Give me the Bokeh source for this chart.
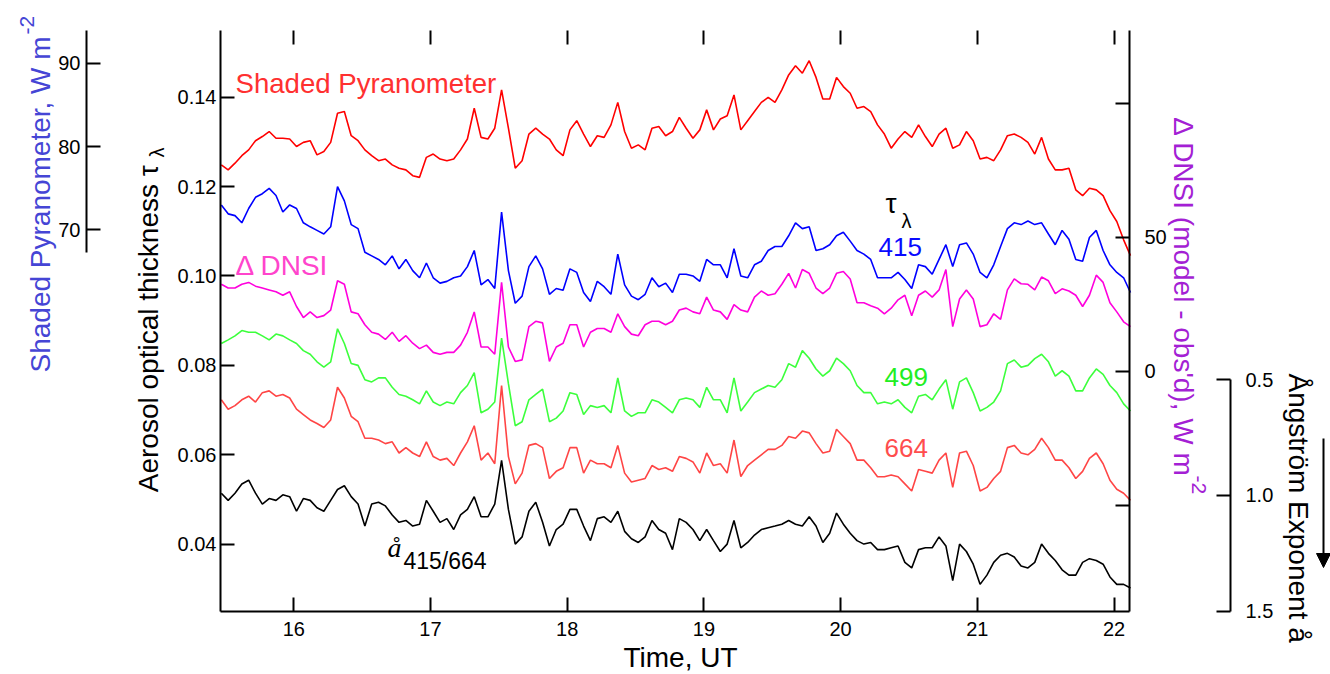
import math
from bokeh.plotting import figure
from bokeh.models import (Range1d, LinearAxis, FixedTicker, PrintfTickFormatter,
                          Label, Arrow, NormalHead)
from bokeh.embed import file_html
from bokeh.resources import INLINE

# ---------------- data ----------------
TIME = [round(15.47 + 0.05 * i, 2) for i in range(134)]

# Shaded pyranometer, W m-2
PYR = [77.8, 77.2, 78.0, 78.9, 79.6, 80.7, 81.2, 81.8, 81.0, 81.0, 80.9, 80.0, 80.5, 80.7, 79.0, 79.4, 80.5,
       84.0, 84.2, 81.3, 80.7, 79.6, 78.9, 78.3, 78.5, 77.8, 77.4, 77.2, 76.5, 76.3, 78.7, 79.1, 78.5, 78.3,
       78.5, 79.6, 80.9, 84.6, 81.1, 80.9, 82.2, 86.8, 82.2, 77.4, 78.3, 81.5, 82.2, 81.5, 80.9, 79.6, 78.9,
       82.0, 83.1, 81.5, 80.0, 81.3, 81.1, 82.6, 85.3, 81.8, 79.8, 80.2, 79.6, 82.2, 82.4, 81.3, 81.8,
       83.5, 82.2, 81.0, 82.0, 84.4, 82.0, 83.3, 83.7, 86.2, 82.0, 83.1, 84.2, 85.3, 85.9, 85.3, 86.8, 88.6,
       89.7, 88.8, 90.3, 88.3, 85.7, 85.7, 88.3, 87.2, 86.4, 84.6, 84.8, 84.2, 82.6, 81.5, 79.8, 80.9, 81.8,
       81.1, 82.6, 81.2, 80.0, 81.5, 82.2, 79.8, 80.2, 81.8, 80.7, 78.5, 78.7, 78.3, 79.6, 81.3, 81.5, 81.1,
       80.5, 79.1, 81.1, 78.5, 77.2, 77.2, 77.4, 74.8, 74.1, 75.0, 74.8, 74.1, 72.3, 71.0, 68.8, 66.9]

# Aerosol optical thickness at 415 nm
T415 = [0.1159, 0.1139, 0.1135, 0.1119, 0.1151, 0.1176, 0.1184, 0.1196, 0.1180, 0.1143, 0.1159, 0.1151,
        0.1119, 0.1110, 0.1102, 0.1094, 0.1110, 0.1200, 0.1168, 0.1115, 0.1106, 0.1053, 0.1045, 0.1037,
        0.1025, 0.1045, 0.1016, 0.1037, 0.1012, 0.0996, 0.1029, 0.0996, 0.0984, 0.0988,
        0.0996, 0.1000, 0.1021, 0.1057, 0.0980, 0.0992, 0.0972, 0.1143, 0.1012, 0.0939, 0.0955, 0.1021,
        0.1045, 0.1016, 0.0959, 0.0972, 0.0968, 0.1016, 0.1008, 0.0963, 0.0943, 0.0988, 0.0976, 0.0959,
        0.1049, 0.0980, 0.0955, 0.0947, 0.0959, 0.0996, 0.0976, 0.0984, 0.0963,
        0.1004, 0.1004, 0.1000, 0.0988, 0.1037, 0.1025, 0.1025, 0.0996, 0.1061, 0.1000, 0.0996, 0.1025,
        0.1033, 0.1057, 0.1066, 0.1066, 0.1090, 0.1119, 0.1106, 0.1110, 0.1057, 0.1061, 0.1070, 0.1090,
        0.1098, 0.1078, 0.1057, 0.1049, 0.1037, 0.0996, 0.0996, 0.0996, 0.1008, 0.0992,
        0.0972, 0.1025, 0.1021, 0.1004, 0.1037, 0.1070, 0.1021, 0.1070, 0.1074, 0.1049, 0.1008, 0.0996,
        0.1025, 0.1066, 0.1106, 0.1119, 0.1115, 0.1123, 0.1115, 0.1119, 0.1094, 0.1070, 0.1102, 0.1082,
        0.1037, 0.1033, 0.1086, 0.1102, 0.1057, 0.1025, 0.1008, 0.0996, 0.0963]

# Delta DNSI (model - obs'd), W m-2
DNSI = [32.4, 31.0, 31.0, 32.4, 33.1, 31.7, 31.0, 30.3, 29.6, 28.3, 29.6, 24.1, 20.0, 22.1, 20.0, 20.7, 22.8,
        33.7, 32.4, 22.1, 21.4, 17.3, 14.5, 13.8, 11.8, 14.5, 11.1, 13.2, 10.4, 8.4, 9.7, 7.0, 6.3, 7.0,
        7.0, 9.7, 14.5, 22.1, 9.0, 9.0, 6.3, 33.1, 9.0, 3.6, 4.2, 16.6, 18.6, 18.0, 3.6, 9.0, 10.4,
        17.3, 17.3, 9.0, 14.5, 15.9, 15.9, 14.5, 21.4, 16.6, 13.8, 13.2, 17.3, 18.6, 18.6, 17.3, 18.6,
        22.8, 23.5, 22.1, 21.4, 27.6, 22.8, 22.1, 19.3, 24.8, 22.8, 22.1, 27.6, 29.9, 28.3, 28.9, 32.4, 36.5,
        31.0, 37.9, 36.5, 31.0, 28.9, 31.0, 36.5, 37.2, 34.4, 25.5, 25.5, 24.4, 23.5, 21.4, 23.5, 26.6, 28.3,
        20.7, 28.3, 29.9, 27.6, 30.3, 37.9, 16.6, 26.9, 30.3, 26.9, 16.6, 17.3, 21.4, 19.3, 30.3, 34.4, 32.6,
        32.4, 30.3, 35.1, 33.7, 28.9, 30.7, 29.9, 28.3, 24.1, 28.3, 35.8, 33.1, 25.5, 22.1, 18.4, 16.6]

# Aerosol optical thickness at 499 nm
T499 = [0.0849, 0.0857, 0.0866, 0.0878, 0.0874, 0.0874, 0.0866, 0.0857, 0.0870, 0.0866, 0.0857, 0.0849,
        0.0833, 0.0825, 0.0808, 0.0796, 0.0808, 0.0882, 0.0849, 0.0804, 0.0800, 0.0768, 0.0763, 0.0772,
        0.0772, 0.0751, 0.0735, 0.0731, 0.0723, 0.0714, 0.0743, 0.0718, 0.0710, 0.0718,
        0.0714, 0.0739, 0.0755, 0.0784, 0.0694, 0.0702, 0.0718, 0.0861, 0.0759, 0.0665, 0.0674, 0.0723,
        0.0735, 0.0747, 0.0674, 0.0682, 0.0698, 0.0739, 0.0735, 0.0690, 0.0710, 0.0706, 0.0710, 0.0694,
        0.0772, 0.0698, 0.0686, 0.0694, 0.0694, 0.0723, 0.0718, 0.0706, 0.0694,
        0.0723, 0.0727, 0.0723, 0.0706, 0.0751, 0.0723, 0.0723, 0.0694, 0.0772, 0.0698, 0.0718, 0.0739,
        0.0747, 0.0755, 0.0751, 0.0768, 0.0804, 0.0796, 0.0833, 0.0816, 0.0792, 0.0776, 0.0788, 0.0816,
        0.0804, 0.0788, 0.0755, 0.0739, 0.0739, 0.0714, 0.0718, 0.0714, 0.0723, 0.0706,
        0.0694, 0.0731, 0.0735, 0.0723, 0.0747, 0.0768, 0.0702, 0.0763, 0.0772, 0.0739, 0.0698, 0.0706,
        0.0718, 0.0743, 0.0804, 0.0812, 0.0796, 0.0800, 0.0815, 0.0825, 0.0808, 0.0776, 0.0788, 0.0776,
        0.0743, 0.0743, 0.0772, 0.0792, 0.0780, 0.0755, 0.0739, 0.0714, 0.0698]

# Aerosol optical thickness at 664 nm
T664 = [0.0723, 0.0702, 0.0710, 0.0723, 0.0731, 0.0718, 0.0739, 0.0743, 0.0731, 0.0735, 0.0727, 0.0702,
        0.0690, 0.0678, 0.0670, 0.0661, 0.0678, 0.0751, 0.0727, 0.0686, 0.0674, 0.0637, 0.0637, 0.0633,
        0.0625, 0.0629, 0.0604, 0.0616, 0.0604, 0.0596, 0.0629, 0.0596, 0.0588, 0.0592,
        0.0576, 0.0604, 0.0629, 0.0665, 0.0588, 0.0604, 0.0580, 0.0755, 0.0596, 0.0535, 0.0559, 0.0621,
        0.0625, 0.0616, 0.0547, 0.0563, 0.0571, 0.0616, 0.0616, 0.0559, 0.0588, 0.0580, 0.0580, 0.0571,
        0.0621, 0.0559, 0.0539, 0.0543, 0.0547, 0.0576, 0.0567, 0.0571, 0.0563,
        0.0596, 0.0592, 0.0584, 0.0559, 0.0604, 0.0576, 0.0580, 0.0559, 0.0633, 0.0551, 0.0576, 0.0588,
        0.0600, 0.0612, 0.0612, 0.0621, 0.0641, 0.0637, 0.0653, 0.0649, 0.0625, 0.0604, 0.0608, 0.0657,
        0.0641, 0.0625, 0.0588, 0.0588, 0.0571, 0.0551, 0.0551, 0.0555, 0.0551, 0.0535,
        0.0519, 0.0567, 0.0563, 0.0559, 0.0588, 0.0604, 0.0527, 0.0604, 0.0608, 0.0576, 0.0519, 0.0527,
        0.0547, 0.0563, 0.0616, 0.0621, 0.0604, 0.0600, 0.0612, 0.0637, 0.0616, 0.0588, 0.0588, 0.0571,
        0.0547, 0.0563, 0.0592, 0.0604, 0.0580, 0.0543, 0.0523, 0.0514, 0.0498]

# Angstrom exponent a(415/664)
ANG = [0.990, 1.021, 0.990, 0.950, 0.934, 0.990, 1.037, 1.013, 1.021, 0.997, 1.005, 1.068, 1.013, 1.021,
       1.053, 1.068, 1.021, 0.974, 0.958, 1.005, 1.037, 1.132, 1.037, 1.029, 1.045, 1.084, 1.116, 1.108,
       1.132, 1.124, 1.021, 1.068, 1.116, 1.100,
       1.147, 1.084, 1.060, 1.005, 1.092, 1.092, 1.037, 0.848, 1.060, 1.210, 1.179, 1.068, 1.029, 1.116,
       1.218, 1.147, 1.124, 1.060, 1.060, 1.132, 1.195, 1.100, 1.092, 1.116, 1.068, 1.155, 1.187, 1.203,
       1.179, 1.108, 1.147, 1.163, 1.234,
       1.100, 1.116, 1.147, 1.195, 1.147, 1.195, 1.242, 1.210, 1.108, 1.226, 1.203, 1.171, 1.147, 1.139,
       1.132, 1.124, 1.108, 1.124, 1.132, 1.092, 1.132, 1.203, 1.163, 1.076, 1.124, 1.163, 1.195, 1.210,
       1.203, 1.234, 1.234, 1.226, 1.218, 1.289,
       1.313, 1.234, 1.226, 1.226, 1.179, 1.218, 1.368, 1.210, 1.242, 1.297, 1.384, 1.344, 1.289, 1.258,
       1.250, 1.266, 1.305, 1.313, 1.289, 1.210, 1.250, 1.281, 1.321, 1.344, 1.344, 1.289, 1.273, 1.281,
       1.297, 1.352, 1.384, 1.384, 1.400]

X_TICKS = [16, 17, 18, 19, 20, 21, 22]
TAU_TICKS = [0.04, 0.06, 0.08, 0.10, 0.12, 0.14]
PYR_TICKS = [70, 80, 90]
DNSI_TICKS = [-50, 0, 50, 100]
ANG_TICKS = [0.5, 1.0, 1.5]

# ---------------- layout ----------------
W, H = 1330, 674
# main data frame (pixels from top-left of the canvas) and its data limits
FL, FR, FT, FB = 220, 1129, 30, 611
X0, X1 = 15.464, 22.113
Y0, Y1 = 0.02494, 0.15492
PYR_LIM = (24.18, 93.93)      # values at frame bottom / top
DNSI_LIM = (-89.7, 127.1)
ANG_LIM = (1.5013, -1.0095)


def dx(px):
    return X0 + (px - FL) * (X1 - X0) / (FR - FL)


def lin(lim, py):
    vb, vt = lim
    return vb + (FB - py) * (vt - vb) / (FB - FT)


def dy(py):
    return lin((Y0, Y1), py)


def full(lim):
    return Range1d(lin(lim, H), lin(lim, 0))


FONT = "Liberation Sans"

p = figure(width=W, height=H, x_range=Range1d(dx(0), dx(W)), y_range=full((Y0, Y1)),
           output_backend="svg", toolbar_location=None,
           x_axis_location=None, y_axis_location=None, min_border=0)
p.extra_y_ranges = {"pyr": full(PYR_LIM), "dnsi": full(DNSI_LIM), "ang": full(ANG_LIM)}
p.grid.visible = False
p.outline_line_color = None
p.background_fill_color = "white"
p.border_fill_color = "white"


def axis(side, ticks, fmt, standoff, loc, bounds, rng=None, labels=True, line=True):
    kw = {"y_range_name": rng} if rng else {}
    ax = LinearAxis(ticker=FixedTicker(ticks=ticks), fixed_location=loc, bounds=bounds, **kw)
    ax.formatter = PrintfTickFormatter(format=fmt)
    ax.major_tick_in = 14
    ax.major_tick_out = 0
    ax.minor_tick_line_color = None
    ax.major_tick_line_width = 2
    ax.major_tick_line_color = "black"
    ax.axis_line_width = 2
    ax.axis_line_color = "black" if line else None
    ax.major_label_text_font = FONT
    ax.major_label_text_font_size = "20px"
    ax.major_label_text_color = "black" if labels else None
    ax.major_label_standoff = standoff
    p.add_layout(ax, side)
    return ax


axis("left", TAU_TICKS, "%.2f", 4, X0, (Y0, Y1))
axis("below", X_TICKS, "%d", 10, Y0, (X0, X1))
axis("above", X_TICKS, "%d", 0, Y1, (X0, X1), labels=False, line=False)
ra = axis("right", DNSI_TICKS, "%d", 15, X1, DNSI_LIM, rng="dnsi")
ra.major_label_overrides = {-50: "", 100: ""}
axis("left", PYR_TICKS, "%d", 6, dx(86), (67.24, PYR_LIM[1]), rng="pyr")
axis("right", ANG_TICKS, "%.1f", 15, dx(1230), (0.5, 1.5), rng="ang")

# ---------------- series ----------------
LW = 1.6
p.line(TIME, PYR, y_range_name="pyr", line_color="#ff0000", line_width=LW)
p.line(TIME, T415, line_color="#0000ff", line_width=LW)
p.line(TIME, DNSI, y_range_name="dnsi", line_color="#ff00dd", line_width=LW)
p.line(TIME, T499, line_color="#3cff3c", line_width=LW)
p.line(TIME, T664, line_color="#ff4545", line_width=LW)
p.line(TIME, ANG, y_range_name="ang", line_color="black", line_width=LW)


# ---------------- texts (x, y = start of text, centre of its capital height) ----------------
def lab(text, px, py, size, color="black", angle=0.0, align="left",
        font=FONT, style="normal"):
    p.add_layout(Label(x=dx(px), y=dy(py), text=text, text_font=font,
                       text_font_size=f"{size}px", text_color=color, angle=angle,
                       text_align=align, text_baseline="alphabetic",
                       text_font_style=style))


lab("Shaded Pyranometer", 235, 83, 27.6, "#ff3030")
lab("\u0394 DNSI", 235, 264.5, 28, "#ff44cc")
lab("\u03c4", 885, 203, 28)
lab("\u03bb", 901, 220, 20)
lab("415", 878, 246, 26, "#0a0aff")
lab("499", 884, 376, 26, "#22ee22")
lab("664", 884, 447.5, 26, "#ff4d4d")
lab("\u00e5", 387, 547, 28, font="Liberation Serif", style="italic")
lab("415/664", 403, 560, 23)

# axis titles
lab("Aerosol optical thickness \u03c4", 148, 491.7, 28, angle=math.pi / 2)
lab("\u03bb", 156, 157, 20, angle=math.pi / 2)
lab("Shaded Pyranometer, W m", 40, 372, 28, "#4545d5", angle=math.pi / 2)
lab("-2", 26, 34, 21, "#4545d5", angle=math.pi / 2)
lab("\u0394 DNSI (model - obs'd), W m", 1183, 116.7, 28, "#a41fd4", angle=-math.pi / 2)
lab("-2", 1198, 475, 21, "#a41fd4", angle=-math.pi / 2)
lab("\u00c5ngstr\u00f6m Exponent \u00e5", 1298, 373, 28, angle=-math.pi / 2)
lab("Time, UT", 680, 657, 28, align="center")

p.add_layout(Arrow(x_start=dx(1323), y_start=dy(438), x_end=dx(1323), y_end=dy(567),
                   line_width=2, line_color="black",
                   end=NormalHead(size=14, fill_color="black", line_color="black")))

open("out.html", "w").write(file_html(p, INLINE))
